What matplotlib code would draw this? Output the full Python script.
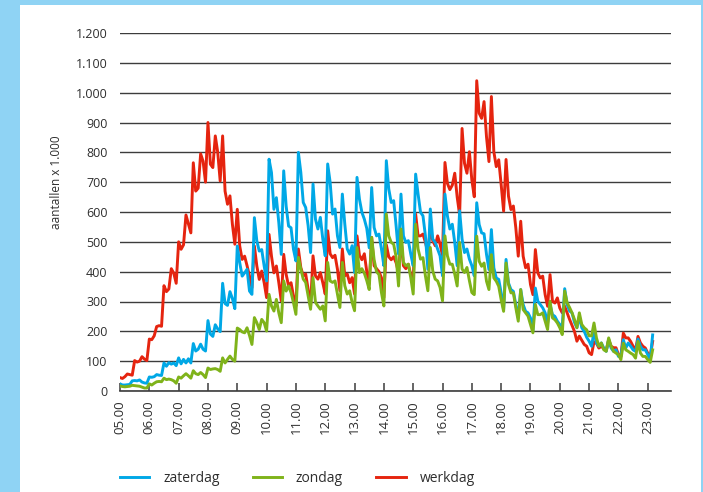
import numpy as np
import matplotlib
matplotlib.use("Agg")
import matplotlib.pyplot as plt
from matplotlib.patches import Rectangle

# 5-minute values from 05.00 to 23.10, in thousands
zaterdag = [
    24, 20, 20, 21, 22, 34, 35, 34, 37, 30, 27, 26,
    47, 46, 48, 55, 53, 52, 94, 83, 95, 90, 94, 85,
    111, 91, 106, 94, 108, 94, 159, 134, 140, 157, 140, 134,
    236, 191, 183, 222, 208, 199, 361, 293, 287, 333, 310, 276,
    486, 430, 385, 396, 408, 335, 324, 581, 503, 469, 474, 419,
    369, 777, 732, 609, 648, 564, 458, 738, 620, 553, 547, 475,
    436, 800, 733, 632, 615, 554, 464, 694, 576, 543, 582, 509,
    453, 761, 700, 593, 610, 520, 481, 660, 560, 476, 459, 487,
    397, 716, 643, 599, 576, 545, 480, 682, 548, 520, 526, 476,
    420, 772, 677, 632, 638, 554, 459, 660, 520, 498, 504, 459,
    420, 727, 660, 599, 587, 520, 408, 610, 509, 498, 476, 453,
    386, 660, 587, 543, 559, 498, 420, 604, 509, 464, 476, 442,
    420, 386, 631, 558, 530, 527, 458, 407, 541, 413, 379, 374,
    329, 273, 441, 362, 340, 334, 290, 245, 340, 290, 267, 262,
    245, 202, 345, 301, 290, 279, 262, 228, 290, 256, 250, 234,
    223, 217, 343, 290, 268, 262, 230, 212, 250, 212, 200, 180,
    167, 150, 200, 161, 150, 161, 144, 133, 172, 144, 133, 138,
    116, 116, 172, 144, 161, 150, 138, 133, 174, 150, 138, 138,
    122, 105, 188,
]

zondag = [
    17, 15, 14, 15, 16, 19, 18, 17, 16, 13, 10, 10,
    24, 20, 26, 31, 32, 31, 43, 38, 40, 38, 34, 26,
    47, 43, 51, 58, 51, 43, 68, 58, 55, 62, 55, 45,
    77, 72, 74, 75, 72, 66, 111, 94, 106, 117, 106, 100,
    211, 206, 198, 195, 212, 186, 156, 246, 229, 206, 240, 229,
    201, 324, 285, 268, 307, 262, 229, 369, 335, 352, 330, 296,
    257, 448, 409, 375, 364, 319, 274, 380, 297, 285, 274, 285,
    235, 431, 369, 364, 369, 325, 280, 431, 353, 325, 336, 297,
    269, 481, 397, 410, 395, 370, 340, 515, 440, 400, 390, 330,
    285, 593, 520, 498, 492, 450, 352, 543, 431, 420, 425, 380,
    325, 559, 476, 442, 447, 386, 336, 481, 403, 375, 369, 347,
    302, 520, 453, 425, 425, 392, 352, 498, 409, 397, 414, 370,
    330, 323, 519, 435, 418, 429, 368, 340, 457, 379, 368, 351,
    306, 267, 429, 357, 329, 329, 279, 234, 340, 273, 262, 251,
    223, 195, 290, 256, 256, 262, 234, 206, 301, 245, 239, 228,
    212, 189, 335, 296, 280, 262, 240, 212, 262, 223, 212, 205,
    185, 185, 228, 178, 150, 161, 138, 133, 178, 150, 133, 127,
    122, 105, 160, 138, 133, 127, 122, 110, 166, 127, 116, 116,
    105, 96, 138,
]

werkdag = [
    45, 42, 48, 57, 55, 53, 102, 97, 100, 115, 107, 102,
    174, 172, 185, 216, 219, 217, 353, 333, 342, 410, 395, 361,
    500, 475, 490, 590, 560, 530, 765, 670, 680, 795, 770, 700,
    900, 760, 749, 855, 800, 704, 855, 670, 626, 654, 559, 492,
    609, 486, 441, 452, 420, 385, 346, 486, 419, 374, 402, 363,
    313, 525, 452, 396, 419, 363, 302, 458, 391, 352, 363, 318,
    285, 476, 414, 386, 392, 341, 285, 453, 386, 375, 397, 363,
    325, 537, 460, 447, 455, 408, 336, 476, 386, 392, 363, 380,
    325, 520, 455, 440, 460, 400, 360, 515, 420, 410, 400, 380,
    313, 490, 450, 440, 450, 430, 397, 510, 420, 410, 425, 390,
    370, 593, 520, 520, 526, 498, 464, 543, 504, 487, 520, 492,
    453, 766, 696, 675, 690, 730, 650, 590, 880, 763, 730, 802,
    707, 651, 1040, 931, 914, 970, 852, 769, 987, 802, 752, 775,
    692, 603, 776, 653, 608, 620, 547, 452, 569, 452, 413, 425,
    357, 323, 474, 396, 379, 385, 323, 284, 390, 301, 295, 312,
    278, 262, 284, 262, 240, 220, 200, 167, 184, 170, 156, 150,
    128, 122, 165, 160, 144, 150, 142, 136, 172, 150, 145, 145,
    122, 116, 194, 178, 178, 166, 150, 138, 183, 161, 150, 144,
    127, 116, 166,
]

hours = list(range(5, 24))
hour_labels = ["%02d.00" % h for h in hours]
y_ticks = list(range(0, 1300, 100))
y_labels = ["0"] + ["{:,}".format(v).replace(",", ".") for v in y_ticks[1:]]

plt.rcParams["font.family"] = ["Open Sans", "DejaVu Sans"]
txt = "#2e2e2e"

W, H = 703, 492
fig = plt.figure(figsize=(W / 100, H / 100), dpi=100, facecolor="#8fd3f4")
fig.patches.append(Rectangle((20 / W, 0), 681 / W, 487 / H, transform=fig.transFigure,
                             facecolor="white", edgecolor="none", zorder=-10))

ax = fig.add_axes([120 / W, 1 - 391 / H, 551 / W, 358 / H])
ax.set_facecolor("none")

t = 5 + np.arange(len(werkdag)) * 5 / 60
l_red, = ax.plot(t, werkdag, color="#e5240f", lw=2.1, zorder=3)
l_blue, = ax.plot(t, zaterdag, color="#00a8e6", lw=2.1, zorder=4)
l_green, = ax.plot(t, zondag, color="#7fb31a", lw=2.1, zorder=5)

ax.set_xlim(5, 5 + 551 / 29.32)
ax.set_ylim(0, 1200)
ax.set_yticks(y_ticks)
ax.set_yticklabels(y_labels)
ax.set_xticks(hours)
ax.set_xticklabels(hour_labels, rotation=90)
ax.grid(axis="y", color="#3c3c3c", lw=1.0, zorder=1)
ax.set_axisbelow(True)
for s in ["top", "right", "left"]:
    ax.spines[s].set_visible(False)
ax.spines["bottom"].set_color("#3c3c3c")
ax.spines["bottom"].set_linewidth(1.2)
ax.tick_params(axis="y", length=0, pad=9, labelsize=9, labelcolor=txt)
ax.tick_params(axis="x", direction="in", length=6, width=1.1, color="#3c3c3c",
               pad=7, labelsize=9.5, labelcolor=txt)

fig.text(57 / W, 1 - 182 / H, "aantallen x 1.000", rotation=90, ha="center", va="center",
         fontsize=8.5, color=txt)

fig.legend([l_blue, l_green, l_red], ["zaterdag", "zondag", "werkdag"], ncol=3,
           loc="center left", bbox_to_anchor=(120 / W, 1 - 478 / H), frameon=False,
           fontsize=10, handlelength=2.1, handletextpad=1.0, columnspacing=2.4,
           borderpad=0, borderaxespad=0, labelcolor=txt)

fig.savefig("out.png", dpi=100, facecolor=fig.get_facecolor())
